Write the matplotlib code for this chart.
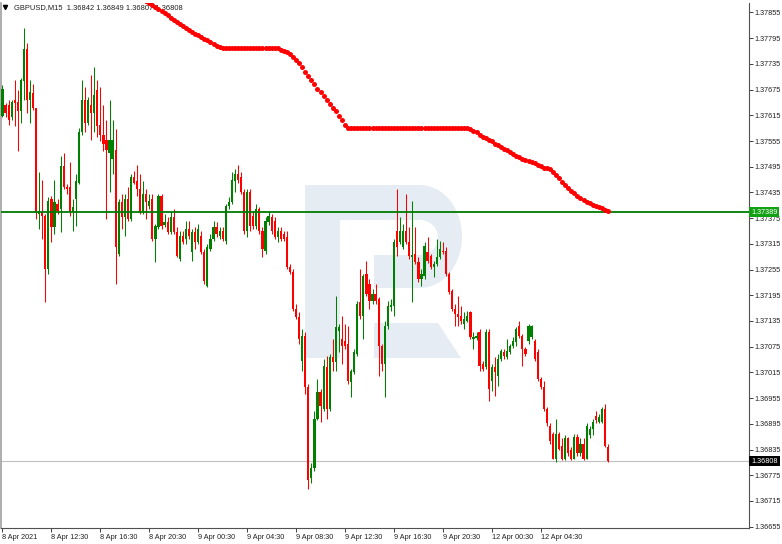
import numpy as np
import matplotlib
matplotlib.use("Agg")
import matplotlib.pyplot as plt
from matplotlib.patches import Rectangle, Polygon
from matplotlib.transforms import Affine2D, blended_transform_factory

plt.rcParams['font.family'] = ['Liberation Sans', 'DejaVu Sans']

# GBPUSD M15 candles, 8 Apr 08:30 .. 12 Apr ~10:00
opens = [
    1.37614, 1.37640, 1.37640, 1.37610, 1.37651, 1.37647, 1.37624, 1.37696, 1.37770, 1.37651,
    1.37668, 1.37631, 1.37384, 1.37389, 1.37379, 1.37256, 1.37419, 1.37354, 1.37407, 1.37396,
    1.37496, 1.37447, 1.37447, 1.37389, 1.37419, 1.37458, 1.37575, 1.37651, 1.37598, 1.37640,
    1.37621, 1.37675, 1.37593, 1.37570, 1.37558, 1.37528, 1.37512, 1.37535, 1.37291, 1.37412,
    1.37377, 1.37419, 1.37372, 1.37470, 1.37461, 1.37442, 1.37391, 1.37431, 1.37403, 1.37419,
    1.37326, 1.37354, 1.37426, 1.37358, 1.37365, 1.37342, 1.37377, 1.37342, 1.37279, 1.37333,
    1.37326, 1.37349, 1.37296, 1.37342, 1.37319, 1.37333, 1.37296, 1.37217, 1.37303, 1.37326,
    1.37354, 1.37333, 1.37344, 1.37321, 1.37403, 1.37412, 1.37461, 1.37477, 1.37470, 1.37437,
    1.37344, 1.37437, 1.37379, 1.37356, 1.37396, 1.37344, 1.37298, 1.37365, 1.37377, 1.37368,
    1.37331, 1.37344, 1.37337, 1.37331, 1.37261, 1.37249, 1.37163, 1.37144, 1.37042, 1.37100,
    1.36982, 1.36768, 1.36791, 1.36907, 1.36970, 1.36930, 1.37028, 1.36930, 1.37051, 1.37040,
    1.37112, 1.37093, 1.37089, 1.37082, 1.36993, 1.37017, 1.37058, 1.37179, 1.37147, 1.37244,
    1.37221, 1.37182, 1.37198, 1.37186, 1.37077, 1.37035, 1.37124, 1.37168, 1.37170, 1.37344,
    1.37319, 1.37307, 1.37344, 1.37319, 1.37284, 1.37291, 1.37272, 1.37233, 1.37240, 1.37296,
    1.37286, 1.37261, 1.37268, 1.37284, 1.37298, 1.37298, 1.37244, 1.37205, 1.37163, 1.37151,
    1.37147, 1.37128, 1.37135, 1.37156, 1.37093, 1.37096, 1.37110, 1.37035, 1.37028, 1.37110,
    1.36996, 1.37028, 1.37007, 1.37047, 1.37063, 1.37051, 1.37063, 1.37077, 1.37086, 1.37124,
    1.37100, 1.37070, 1.37089, 1.37098, 1.37089, 1.37063, 1.37000, 1.36982, 1.36930, 1.36891,
    1.36872, 1.36814, 1.36872, 1.36844, 1.36814, 1.36861, 1.36833, 1.36814, 1.36865, 1.36826,
    1.36849, 1.36814, 1.36868, 1.36884, 1.36914, 1.36900, 1.36900, 1.36930, 1.36842,
]
highs = [
    1.37686, 1.37644, 1.37651, 1.37651, 1.37698, 1.37675, 1.37703, 1.37819, 1.37784, 1.37698,
    1.37689, 1.37633, 1.37482, 1.37463, 1.37384, 1.37424, 1.37426, 1.37465, 1.37419, 1.37519,
    1.37528, 1.37454, 1.37505, 1.37419, 1.37477, 1.37586, 1.37698, 1.37682, 1.37658, 1.37710,
    1.37728, 1.37698, 1.37682, 1.37640, 1.37605, 1.37651, 1.37605, 1.37582, 1.37419, 1.37431,
    1.37431, 1.37447, 1.37477, 1.37484, 1.37498, 1.37477, 1.37461, 1.37442, 1.37431, 1.37431,
    1.37361, 1.37431, 1.37431, 1.37384, 1.37377, 1.37391, 1.37396, 1.37354, 1.37344, 1.37344,
    1.37368, 1.37368, 1.37349, 1.37354, 1.37361, 1.37344, 1.37303, 1.37314, 1.37337, 1.37368,
    1.37365, 1.37354, 1.37354, 1.37407, 1.37424, 1.37482, 1.37489, 1.37500, 1.37482, 1.37442,
    1.37442, 1.37442, 1.37391, 1.37407, 1.37400, 1.37354, 1.37377, 1.37391, 1.37384, 1.37377,
    1.37354, 1.37354, 1.37344, 1.37344, 1.37268, 1.37256, 1.37175, 1.37156, 1.37117, 1.37110,
    1.36989, 1.36803, 1.36924, 1.37000, 1.36977, 1.37047, 1.37054, 1.37058, 1.37093, 1.37193,
    1.37128, 1.37147, 1.37128, 1.37124, 1.37024, 1.37070, 1.37182, 1.37256, 1.37244, 1.37275,
    1.37233, 1.37210, 1.37221, 1.37191, 1.37082, 1.37135, 1.37182, 1.37186, 1.37326, 1.37442,
    1.37377, 1.37361, 1.37431, 1.37354, 1.37414, 1.37354, 1.37284, 1.37256, 1.37319, 1.37331,
    1.37291, 1.37275, 1.37326, 1.37321, 1.37319, 1.37307, 1.37249, 1.37210, 1.37175, 1.37193,
    1.37170, 1.37156, 1.37158, 1.37158, 1.37110, 1.37110, 1.37117, 1.37042, 1.37117, 1.37117,
    1.37035, 1.37051, 1.37058, 1.37070, 1.37070, 1.37093, 1.37082, 1.37098, 1.37121, 1.37135,
    1.37105, 1.37075, 1.37128, 1.37126, 1.37093, 1.37070, 1.37005, 1.36996, 1.36935, 1.36896,
    1.36877, 1.36907, 1.36877, 1.36861, 1.36868, 1.36865, 1.36842, 1.36872, 1.36872, 1.36861,
    1.36861, 1.36896, 1.36889, 1.36907, 1.36924, 1.36919, 1.36935, 1.36942, 1.36849,
]
lows = [
    1.37610, 1.37612, 1.37593, 1.37605, 1.37589, 1.37531, 1.37598, 1.37651, 1.37621, 1.37598,
    1.37628, 1.37372, 1.37349, 1.37326, 1.37179, 1.37244, 1.37319, 1.37337, 1.37384, 1.37342,
    1.37442, 1.37431, 1.37379, 1.37344, 1.37356, 1.37454, 1.37570, 1.37575, 1.37593, 1.37558,
    1.37575, 1.37565, 1.37554, 1.37531, 1.37372, 1.37435, 1.37477, 1.37221, 1.37286, 1.37349,
    1.37333, 1.37368, 1.37368, 1.37454, 1.37426, 1.37384, 1.37384, 1.37372, 1.37396, 1.37321,
    1.37272, 1.37349, 1.37349, 1.37354, 1.37337, 1.37337, 1.37337, 1.37284, 1.37275, 1.37314,
    1.37314, 1.37326, 1.37275, 1.37303, 1.37314, 1.37291, 1.37221, 1.37214, 1.37298, 1.37321,
    1.37331, 1.37326, 1.37321, 1.37314, 1.37396, 1.37407, 1.37437, 1.37458, 1.37431, 1.37337,
    1.37331, 1.37344, 1.37349, 1.37349, 1.37337, 1.37284, 1.37291, 1.37358, 1.37337, 1.37326,
    1.37319, 1.37321, 1.37321, 1.37256, 1.37244, 1.37158, 1.37140, 1.37082, 1.37019, 1.36965,
    1.36744, 1.36756, 1.36786, 1.36903, 1.36900, 1.36926, 1.36907, 1.36926, 1.37019, 1.37019,
    1.37063, 1.37035, 1.37070, 1.36989, 1.36958, 1.37012, 1.37054, 1.37140, 1.37093, 1.37193,
    1.37163, 1.37175, 1.37175, 1.37007, 1.37019, 1.36958, 1.37117, 1.37158, 1.37147, 1.37286,
    1.37314, 1.37303, 1.37314, 1.37279, 1.37179, 1.37268, 1.37226, 1.37217, 1.37233, 1.37270,
    1.37256, 1.37237, 1.37263, 1.37279, 1.37291, 1.37240, 1.37198, 1.37158, 1.37124, 1.37124,
    1.37128, 1.37117, 1.37133, 1.37093, 1.37070, 1.37091, 1.37019, 1.37019, 1.37024, 1.36949,
    1.36972, 1.36961, 1.36984, 1.37042, 1.37047, 1.37047, 1.37058, 1.37072, 1.37077, 1.37096,
    1.37031, 1.37054, 1.37082, 1.37093, 1.37042, 1.36996, 1.36977, 1.36926, 1.36889, 1.36849,
    1.36812, 1.36807, 1.36833, 1.36810, 1.36810, 1.36819, 1.36810, 1.36812, 1.36819, 1.36819,
    1.36810, 1.36812, 1.36861, 1.36868, 1.36896, 1.36896, 1.36896, 1.36840, 1.36807,
]
closes = [
    1.37677, 1.37621, 1.37605, 1.37647, 1.37644, 1.37624, 1.37698, 1.37770, 1.37651, 1.37670,
    1.37633, 1.37389, 1.37391, 1.37379, 1.37256, 1.37414, 1.37354, 1.37412, 1.37391, 1.37496,
    1.37447, 1.37442, 1.37389, 1.37400, 1.37461, 1.37575, 1.37651, 1.37598, 1.37651, 1.37621,
    1.37663, 1.37589, 1.37570, 1.37547, 1.37535, 1.37558, 1.37558, 1.37307, 1.37412, 1.37377,
    1.37419, 1.37372, 1.37470, 1.37458, 1.37442, 1.37389, 1.37431, 1.37412, 1.37414, 1.37326,
    1.37356, 1.37426, 1.37356, 1.37365, 1.37342, 1.37377, 1.37342, 1.37286, 1.37333, 1.37319,
    1.37349, 1.37333, 1.37342, 1.37319, 1.37349, 1.37296, 1.37228, 1.37307, 1.37326, 1.37354,
    1.37337, 1.37344, 1.37326, 1.37403, 1.37412, 1.37465, 1.37477, 1.37465, 1.37437, 1.37344,
    1.37437, 1.37356, 1.37356, 1.37396, 1.37344, 1.37303, 1.37368, 1.37379, 1.37344, 1.37331,
    1.37344, 1.37326, 1.37326, 1.37261, 1.37249, 1.37163, 1.37144, 1.37093, 1.37100, 1.36982,
    1.36763, 1.36791, 1.36907, 1.36970, 1.36937, 1.37031, 1.36930, 1.37051, 1.37040, 1.37121,
    1.37121, 1.37077, 1.37077, 1.36996, 1.37019, 1.37063, 1.37175, 1.37147, 1.37240, 1.37198,
    1.37182, 1.37198, 1.37182, 1.37077, 1.37035, 1.37124, 1.37170, 1.37172, 1.37319, 1.37307,
    1.37344, 1.37344, 1.37319, 1.37286, 1.37289, 1.37272, 1.37233, 1.37244, 1.37310, 1.37275,
    1.37261, 1.37268, 1.37284, 1.37303, 1.37296, 1.37244, 1.37203, 1.37163, 1.37151, 1.37144,
    1.37135, 1.37140, 1.37147, 1.37098, 1.37098, 1.37100, 1.37031, 1.37024, 1.37110, 1.36977,
    1.37028, 1.37017, 1.37047, 1.37065, 1.37054, 1.37065, 1.37077, 1.37089, 1.37117, 1.37100,
    1.37070, 1.37058, 1.37124, 1.37124, 1.37047, 1.37000, 1.36982, 1.36930, 1.36896, 1.36854,
    1.36814, 1.36872, 1.36837, 1.36814, 1.36861, 1.36826, 1.36814, 1.36865, 1.36826, 1.36849,
    1.36814, 1.36889, 1.36884, 1.36900, 1.36903, 1.36912, 1.36930, 1.36844, 1.36808,
]

# red dotted indicator, one value per bar for the last len(ma_line) bars
ma_line = [
    1.37886, 1.37882, 1.37877, 1.37872, 1.37868, 1.37864, 1.37858, 1.37854, 1.37848, 1.37842,
    1.37837, 1.37833, 1.37828, 1.37824, 1.37819, 1.37814, 1.37810, 1.37805, 1.37803, 1.37798,
    1.37794, 1.37791, 1.37786, 1.37782, 1.37777, 1.37774,
    1.37772, 1.37772, 1.37772, 1.37772, 1.37772, 1.37772, 1.37772, 1.37772, 1.37772,
    1.37772, 1.37772, 1.37772, 1.37772, 1.37772, 1.37772, 1.37772, 1.37772, 1.37772,
    1.37771, 1.37768, 1.37765, 1.37763, 1.37758, 1.37751, 1.37744, 1.37737, 1.37728, 1.37717,
    1.37707, 1.37698, 1.37689, 1.37677, 1.37670, 1.37661, 1.37651, 1.37642, 1.37633, 1.37624,
    1.37614, 1.37603, 1.37593,
    1.37586, 1.37586, 1.37586, 1.37586, 1.37586, 1.37586, 1.37586, 1.37586, 1.37586, 1.37586,
    1.37586, 1.37586, 1.37586, 1.37586, 1.37586, 1.37586, 1.37586, 1.37586, 1.37586, 1.37586,
    1.37586, 1.37586, 1.37586, 1.37586, 1.37586, 1.37586, 1.37586, 1.37586, 1.37586, 1.37586,
    1.37586, 1.37586, 1.37586, 1.37586, 1.37586, 1.37586, 1.37586, 1.37586, 1.37586, 1.37586,
    1.37584, 1.37579, 1.37575, 1.37570, 1.37565, 1.37562, 1.37558, 1.37554, 1.37549, 1.37546,
    1.37542, 1.37537, 1.37534, 1.37529, 1.37525, 1.37521, 1.37517, 1.37514, 1.37511, 1.37508,
    1.37505, 1.37503, 1.37499, 1.37497, 1.37493, 1.37491, 1.37489, 1.37482, 1.37475, 1.37468,
    1.37460, 1.37453, 1.37446, 1.37439, 1.37433, 1.37427, 1.37422, 1.37418, 1.37413, 1.37410,
    1.37406, 1.37403, 1.37400, 1.37398, 1.37395, 1.37391,
]

level_line = 1.37389
bid_line = 1.36808
header = "GBPUSD,M15  1.36842 1.36849 1.36807 1.36808"

time_labels = ["8 Apr 2021", "8 Apr 12:30", "8 Apr 16:30", "8 Apr 20:30",
               "9 Apr 00:30", "9 Apr 04:30", "9 Apr 08:30", "9 Apr 12:30",
               "9 Apr 16:30", "9 Apr 20:30", "12 Apr 00:30", "12 Apr 04:30"]
bars_per_label = 16
price_ticks = [1.36655, 1.36715, 1.36775, 1.36835, 1.36895, 1.36955, 1.37015,
               1.37075, 1.37135, 1.37195, 1.37255, 1.37315, 1.37375, 1.37435,
               1.37495, 1.37555, 1.37615, 1.37675, 1.37735, 1.37795, 1.37855]

W, H = 782, 544
fs = 5.2
fig = plt.figure(figsize=(W / 100, H / 100), dpi=100)
ax = fig.add_axes([1 / W, 16 / H, 748 / W, 525 / H])

o = np.array(opens)
c = np.array(closes)
hi = np.array(highs)
lo = np.array(lows)
x = np.arange(len(c))
up = c >= o
green = "#008000"
red = "#ff0000"
cols = np.where(up, green, red)

# watermark logo (pixel coordinates, top-left origin)
px = Affine2D().scale(1 / W, -1 / H).translate(0, 1) + fig.transFigure
wm = "#e6ecf4"
for r in [Rectangle((305, 185), 35, 173), Rectangle((305, 185), 116, 35),
          Rectangle((374, 255), 47, 33),
          Polygon([(374, 323), (438, 323), (461, 358), (374, 358)])]:
    r.set_facecolor(wm)
    r.set_edgecolor("none")
    r.set_transform(px)
    r.set_zorder(0)
    ax.add_artist(r)
t = np.linspace(-np.pi / 2, np.pi / 2, 40)
outer = np.column_stack([420 + 42 * np.cos(t), 236.5 + 51.5 * np.sin(t)])
inner = np.column_stack([420 + 18 * np.cos(t), 237.5 + 17.5 * np.sin(t)])[::-1]
bowl = Polygon(np.vstack([outer, inner]), closed=True, facecolor=wm,
               edgecolor="none", transform=px, zorder=0)
ax.add_artist(bowl)

# candles
ax.vlines(x, lo, hi, colors=cols, linewidth=0.75, zorder=2)
body = np.maximum(np.abs(c - o), 0.00003)
ax.bar(x, body, bottom=np.minimum(o, c), width=0.72, color=cols,
       linewidth=0, zorder=3)

# horizontal levels
ax.axhline(level_line, color="#007a00", linewidth=1.3, zorder=4)
ax.axhline(bid_line, color="#c0c0c0", linewidth=0.8, zorder=1)

# indicator dots
ma_x = np.arange(len(c) - len(ma_line), len(c))
ax.plot(ma_x, ma_line, "o", color=red, markersize=3.6, markeredgewidth=0,
        zorder=6)

ax.set_xlim(-0.49, 244.1)
ax.set_ylim(1.36652, 1.37877)

# axes styling
ax.yaxis.tick_right()
ax.set_yticks(price_ticks)
ax.set_yticklabels([f"{p:.5f}" for p in price_ticks])
ax.set_xticks(np.arange(len(time_labels)) * bars_per_label)
ax.set_xticklabels(time_labels)
for lab in ax.get_xticklabels():
    lab.set_horizontalalignment("left")
ax.tick_params(axis="both", direction="out", length=3, width=0.6,
               labelsize=fs, colors="#202020", pad=1.2)
for side in ["right", "bottom"]:
    ax.spines[side].set_color("#505050")
    ax.spines[side].set_linewidth(0.8)
ax.spines["left"].set_color("#a0a0a0")
ax.spines["left"].set_linewidth(1.2)
ax.spines["top"].set_visible(False)

# price tags on the right
tr = blended_transform_factory(ax.transAxes, ax.transData)
ax.text(1.003, level_line, f"{level_line:.5f}", transform=tr, fontsize=fs,
        color="white", va="center", ha="left", clip_on=False, zorder=7,
        bbox=dict(boxstyle="square,pad=0.25", fc="#14a014", ec="none"))
ax.text(1.003, bid_line, f"{bid_line:.5f}", transform=tr, fontsize=fs,
        color="white", va="center", ha="left", clip_on=False, zorder=7,
        bbox=dict(boxstyle="square,pad=0.25", fc="black", ec="none"))

# header
ax.plot([0.005], [0.9915], marker="v", color="black", markersize=3,
        transform=ax.transAxes, clip_on=False, zorder=5)
ax.text(0.0175, 0.992, header, transform=ax.transAxes, fontsize=5.4,
        color="#202020", va="center", ha="left", zorder=5)

fig.savefig("out.png", dpi=100)
